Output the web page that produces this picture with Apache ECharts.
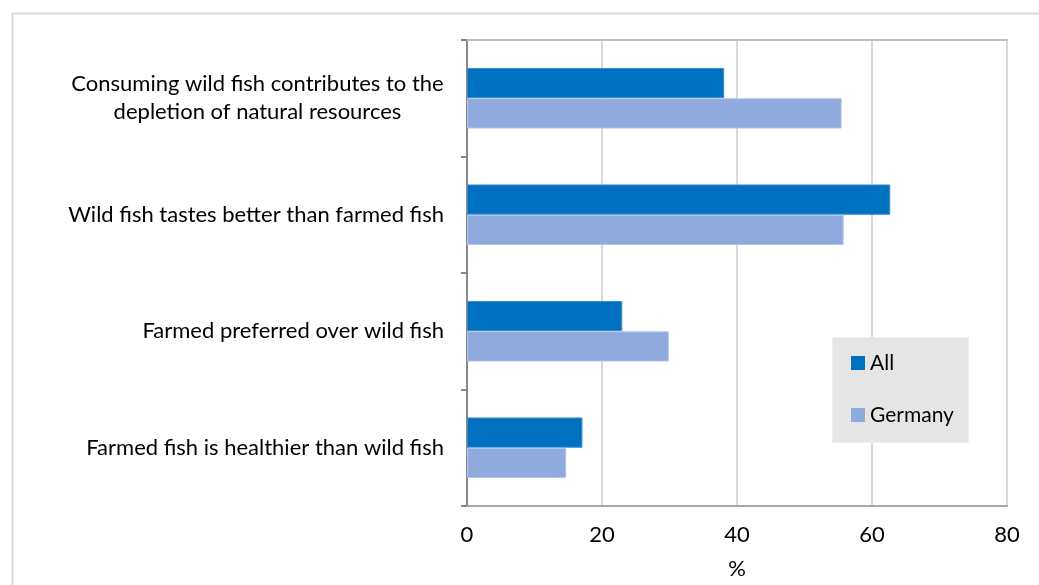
<!DOCTYPE html>
<html>
<head>
<meta charset="utf-8">
<script src="https://cdn.jsdelivr.net/npm/echarts@6/dist/echarts.min.js"></script>
<style>
  html, body { margin: 0; padding: 0; background: #ffffff; }
  #chart { width: 1039px; height: 585px; }
</style>
</head>
<body>
<div id="chart"></div>
<script>
// Statements, listed top to bottom
const categories = [
  'Consuming wild fish contributes to the\ndepletion of natural resources',
  'Wild fish tastes better than farmed fish',
  'Farmed preferred over wild fish',
  'Farmed fish is healthier than wild fish'
];
const seriesNames = ['All', 'Germany'];
const allValues = [38.1, 62.7, 23.0, 17.1];
const germanyValues = [55.5, 55.8, 29.9, 14.7];
const xTicks = [0, 20, 40, 60, 80];

const FONT = 'Lato, "Open Sans", sans-serif';
const FONT_SIZE = 22;

// measure the widest line of a label so multi-line labels can be centred line by line
const ctx = document.createElement('canvas').getContext('2d');
ctx.font = FONT_SIZE + 'px ' + FONT;
function widest(text) {
  return Math.ceil(Math.max.apply(null, text.split('\n').map(l => ctx.measureText(l).width)));
}

const chart = echarts.init(document.getElementById('chart'), null, { renderer: 'canvas' });

const option = {
  backgroundColor: '#ffffff',
  animation: false,
  textStyle: { fontFamily: FONT },
  grid: { left: 467, right: 32, top: 40, bottom: 79 },
  graphic: [
    {
      type: 'rect', left: 10, top: 11, z: -10,
      shape: { width: 1100, height: 700 },
      style: { fill: 'none', stroke: '#d9d9d9', lineWidth: 2 }
    },
    {
      type: 'rect', left: 832, top: 337, z: 5,
      shape: { width: 136, height: 105 },
      style: { fill: '#e5e5e5', stroke: '#efefef', lineWidth: 1 }
    }
  ],
  legend: {
    data: seriesNames,
    orient: 'vertical',
    left: 851,
    top: 351,
    z: 10,
    padding: 0,
    itemWidth: 14,
    itemHeight: 14,
    itemGap: 28,
    icon: 'rect',
    itemStyle: { borderWidth: 0 },
    textStyle: { fontFamily: FONT, fontSize: FONT_SIZE - 1, color: '#000000', lineHeight: 24 }
  },
  xAxis: [
    {
      type: 'value',
      min: xTicks[0],
      max: xTicks[xTicks.length - 1],
      interval: 20,
      name: '%',
      nameLocation: 'middle',
      nameGap: 52,
      nameTextStyle: { fontFamily: FONT, fontSize: FONT_SIZE, color: '#000000' },
      axisLine: { show: true, lineStyle: { color: '#a6a6a6', width: 2 } },
      axisTick: { show: false },
      axisLabel: { fontFamily: FONT, fontSize: FONT_SIZE, color: '#000000', margin: 18 },
      splitLine: { show: true, lineStyle: { color: '#d9d9d9', width: 2 } }
    },
    {
      type: 'value',
      position: 'top',
      min: xTicks[0],
      max: xTicks[xTicks.length - 1],
      interval: 20,
      axisLine: { show: true, lineStyle: { color: '#bfbfbf', width: 2 } },
      axisTick: { show: false },
      axisLabel: { show: false },
      splitLine: { show: false }
    }
  ],
  yAxis: [
    {
      type: 'category',
      data: categories,
      inverse: true,
      axisLine: { show: true, lineStyle: { color: '#868686', width: 2 } },
      axisTick: { show: true, length: 6, lineStyle: { color: '#868686', width: 2 } },
      axisLabel: {
        margin: 23,
        color: '#000000',
        fontFamily: FONT,
        fontSize: FONT_SIZE,
        lineHeight: 28,
        formatter: function (value) {
          if (value.indexOf('\n') < 0) return value;
          return value.split('\n').map(l => '{c|' + l + '}').join('\n');
        },
        rich: {
          c: {
            fontFamily: FONT,
            fontSize: FONT_SIZE,
            lineHeight: 28,
            color: '#000000',
            align: 'center',
            width: widest(categories[0])
          }
        }
      },
      splitLine: { show: false }
    },
    {
      type: 'category',
      data: categories,
      inverse: true,
      position: 'right',
      axisLine: { show: true, lineStyle: { color: '#898989', width: 2 } },
      axisTick: { show: false },
      axisLabel: { show: false },
      splitLine: { show: false }
    }
  ],
  series: [
    {
      name: seriesNames[0],
      type: 'bar',
      data: allValues,
      barCategoryGap: '48%',
      barGap: '0%',
      itemStyle: { color: '#0070c0', borderColor: '#3c8dcf', borderWidth: 1 }
    },
    {
      name: seriesNames[1],
      type: 'bar',
      data: germanyValues,
      barCategoryGap: '48%',
      barGap: '0%',
      itemStyle: { color: '#8faadc', borderColor: '#b3c6ea', borderWidth: 1 }
    }
  ]
};

chart.setOption(option);
</script>
</body>
</html>
